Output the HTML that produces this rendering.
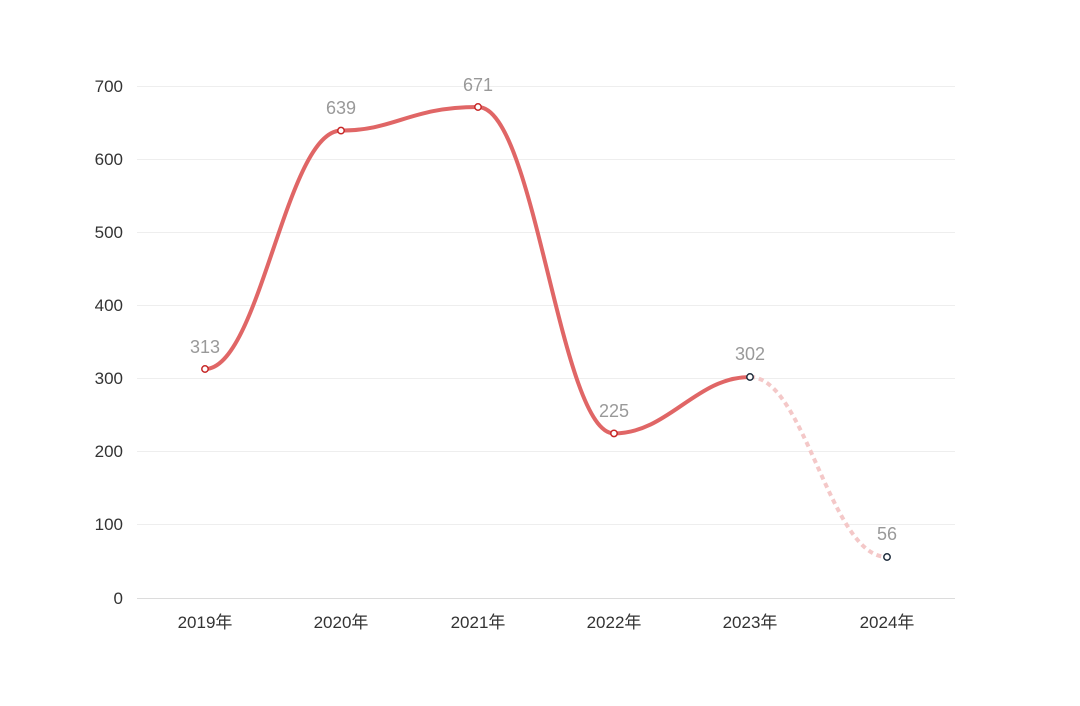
<!DOCTYPE html>
<html><head><meta charset="utf-8"><style>
html,body{margin:0;padding:0;background:#fff;}
svg{display:block;}
text{font-family:"Liberation Sans","Noto Sans CJK SC",sans-serif;}
</style></head><body>
<svg width="1080" height="706" viewBox="0 0 1080 706" xmlns="http://www.w3.org/2000/svg">
<g stroke="#eeeeee" stroke-width="1">
<line x1="137" y1="86.5" x2="955" y2="86.5"/>
<line x1="137" y1="159.5" x2="955" y2="159.5"/>
<line x1="137" y1="232.5" x2="955" y2="232.5"/>
<line x1="137" y1="305.5" x2="955" y2="305.5"/>
<line x1="137" y1="378.5" x2="955" y2="378.5"/>
<line x1="137" y1="451.5" x2="955" y2="451.5"/>
<line x1="137" y1="524.5" x2="955" y2="524.5"/>
</g>
<line x1="137" y1="598.5" x2="955" y2="598.5" stroke="#dcdcdc" stroke-width="1"/>
<g font-size="17" fill="#333" text-anchor="end">
<text x="123" y="92">700</text>
<text x="123" y="165">600</text>
<text x="123" y="238">500</text>
<text x="123" y="311">400</text>
<text x="123" y="384">300</text>
<text x="123" y="457">200</text>
<text x="123" y="530">100</text>
<text x="123" y="604">0</text>
</g>
<g font-size="17" fill="#333" text-anchor="middle">
<text x="205" y="628">2019年</text>
<text x="341" y="628">2020年</text>
<text x="478" y="628">2021年</text>
<text x="614" y="628">2022年</text>
<text x="750" y="628">2023年</text>
<text x="887" y="628">2024年</text>
</g>
<path d="M205,369 C260,369 286,130.6 341,130.6 C395,130.6 410,107 478,107 C535,107 560,433.4 614,433.4 C668,433.4 696,377 750,377" fill="none" stroke="#e06666" stroke-width="4"/>
<path d="M750,377 C805,377 830,557 887,557" fill="none" stroke="#f4c8c8" stroke-width="4" stroke-dasharray="5,4"/>
<g fill="#fff" stroke-width="1.5">
<circle cx="205" cy="369" r="3.2" stroke="#c62828"/>
<circle cx="341" cy="130.6" r="3.2" stroke="#c62828"/>
<circle cx="478" cy="107" r="3.2" stroke="#c62828"/>
<circle cx="614" cy="433.4" r="3.2" stroke="#c62828"/>
<circle cx="750" cy="377" r="3.2" stroke="#1f2d3d"/>
<circle cx="887" cy="557" r="3.2" stroke="#1f2d3d"/>
</g>
<g font-size="18" fill="#999" text-anchor="middle">
<text x="205" y="353">313</text>
<text x="341" y="114">639</text>
<text x="478" y="91">671</text>
<text x="614" y="417">225</text>
<text x="750" y="360">302</text>
<text x="887" y="540">56</text>
</g>
</svg>
</body></html>
